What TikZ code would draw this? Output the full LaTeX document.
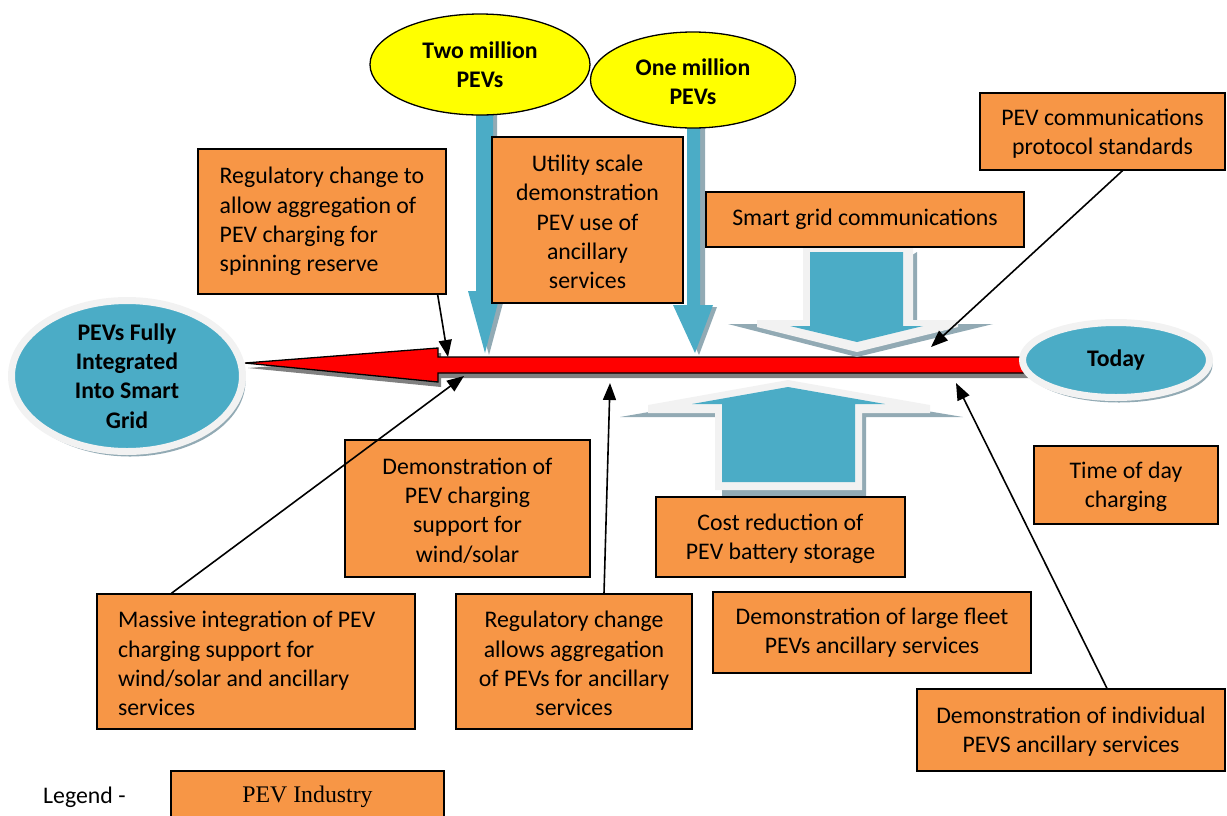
\documentclass[tikz,border=0pt]{standalone}
\usepackage{fontspec}
\setmainfont{Carlito}
\newfontfamily\legendfont{Liberation Serif}
\usetikzlibrary{arrows.meta,calc,shapes.geometric,shadows}
\definecolor{pevorange}{RGB}{247,150,70}
\definecolor{pevblue}{RGB}{75,172,198}
\definecolor{pevshadow}{RGB}{146,170,180}
\definecolor{pevwhite}{RGB}{242,242,242}
\definecolor{pevyellow}{RGB}{255,255,0}
\definecolor{redshadow}{RGB}{128,128,128}
\begin{document}
\begin{tikzpicture}[x=1pt,y=-1pt,
  txt/.style={font=\fontsize{23.8}{29.3}\selectfont},
  pbox/.style={txt, draw=black, line width=1.3pt, fill=pevorange, inner sep=0pt, align=center},
  leftbox/.style={pbox, align=flush left},
  blueell/.style={ellipse, txt, font=\fontsize{23.8}{29.3}\selectfont\bfseries, fill=pevblue, draw=pevwhite, line width=7pt, inner sep=0pt, align=center,
     drop shadow={shadow xshift=3pt, shadow yshift=-5pt, fill=pevshadow, opacity=1}},
  yellell/.style={ellipse, font=\fontsize{23.8}{29.3}\selectfont\bfseries, fill=pevyellow, draw=black, line width=1.3pt, inner sep=0pt, align=center},
  conn/.style={line width=1.6pt, -{Triangle[length=17pt,width=13pt]}},
  shad/.style={fill=pevshadow},
]
\useasboundingbox (0,0) rectangle (1227,815);

% thin blue arrows from the yellow milestones
\fill[shad] (480,115) -- (497,115) -- (497,292) -- (506,292) -- (489,355) -- (472,292) -- (480,292) -- cycle;
\fill[pevblue] (476,115) -- (493,115) -- (493,291) -- (501,291) -- (485,353) -- (468,291) -- (476,291) -- cycle;
\fill[shad] (691,120) -- (705,120) -- (705,307) -- (717,307) -- (699,355) -- (677,307) -- (691,307) -- cycle;
\fill[pevblue] (687,120) -- (700,120) -- (700,305) -- (713,305) -- (695,353) -- (673,305) -- (687,305) -- cycle;

% red time arrow
\fill[redshadow] (248,368) -- (441,353) -- (441,362) -- (1030,362) -- (1030,378) -- (441,378) -- (441,387) -- cycle;
\filldraw[fill=red, draw=black, line width=1.3pt] (245,363) -- (438,348) -- (438,357) -- (1030,357) -- (1030,373) -- (438,373) -- (438,382) -- cycle;

% big down arrow (smart grid communications)
\fill[shad] (917,252) -- (917,324) -- (993,324) -- (857,357) -- (728,324) -- (803,324) -- cycle;
\fill[pevwhite] (803,248) -- (913,248) -- (913,320) -- (958,320) -- (958,327) -- (857,352) -- (757,327) -- (757,320) -- (803,320) -- cycle;
\fill[pevblue] (810,252) -- (903,252) -- (903,326) -- (923,326) -- (857,342) -- (790,326) -- (810,326) -- cycle;

% big up arrow (cost reduction)
\fill[shad] (620,417) -- (788,388) -- (963,417) -- (866,417) -- (866,496) -- (722,496) -- (722,417) -- cycle;
\fill[pevwhite] (715,490) -- (715,413) -- (648,413) -- (648,405) -- (788,380) -- (930,405) -- (930,413) -- (862,413) -- (862,490) -- cycle;
\fill[pevblue] (722,482) -- (722,404) -- (692,404) -- (788,387) -- (885,404) -- (855,404) -- (855,482) -- cycle;

% orange boxes
\node[leftbox, minimum width=248pt, minimum height=145pt] (r1) at (322,221.5) {Regulatory change to\\allow aggregation of\\PEV charging for\\spinning reserve};
\node[pbox, minimum width=191pt, minimum height=166pt] (u1) at (587.5,220) {\strut Utility scale\\demonstration\\PEV use of\\ancillary\\services};
\node[pbox, minimum width=245pt, minimum height=77pt] (c1) at (1102.5,131.5) {\strut PEV communications\\protocol standards};
\node[pbox, minimum width=318pt, minimum height=55pt] (s1) at (865,219.5) {Smart grid communications};
\node[pbox, minimum width=245pt, minimum height=137pt] (d1) at (467.5,508.5) {\strut Demonstration of\\PEV charging\\support for\\wind/solar};
\node[pbox, minimum width=184pt, minimum height=78pt] (t1) at (1126,485) {\strut Time of day\\charging};
\node[pbox, minimum width=249pt, minimum height=80pt] (k1) at (780.5,537) {\strut Cost reduction of\\PEV battery storage};
\node[leftbox, text width=276pt, minimum width=318pt, minimum height=135pt] (m1) at (256,661.5) {\strut Massive integration of PEV\\charging support for\\wind/solar and ancillary\\services};
\node[pbox, minimum width=236pt, minimum height=135pt] (g1) at (574,661.5) {\strut Regulatory change\\allows aggregation\\of PEVs for ancillary\\services};
\node[pbox, minimum width=318pt, minimum height=81pt] (f1) at (872,632.5) {Demonstration of large fleet\\PEVs ancillary services};
\node[pbox, minimum width=308pt, minimum height=82pt] (i1) at (1071,730) {\strut Demonstration of individual\\PEVS ancillary services};

% ellipses
\node[blueell, minimum width=231pt, minimum height=151pt] (goal) at (127,376) {PEVs Fully\\Integrated\\Into Smart\\Grid};
\node[blueell, minimum width=187pt, minimum height=75pt] (today) at (1116,360) {Today};
\node[yellell, minimum width=220pt, minimum height=101pt] (two) at (480,64.5) {Two million\\PEVs};
\node[yellell, minimum width=205pt, minimum height=96pt] (one) at (693,80) {\strut One million\\PEVs};

% connectors
\coordinate (e1) at (448,357);
\coordinate (e2) at (464,376);
\coordinate (e3) at (610,383);
\coordinate (e4) at (956,383);
\coordinate (e5) at (931,347);
\draw[conn] ([xshift=-9pt]r1.south east) -- (e1);
\draw[conn] ([xshift=75pt]m1.north west) -- (e2);
\draw[conn] ([xshift=30pt]g1.north) -- (e3);
\draw[conn] ([xshift=36pt]i1.north) -- (e4);
\draw[conn] ([xshift=20pt]c1.south) -- (e5);

% legend
\node[txt, anchor=west, inner sep=0pt] (leg) at (43,797) {Legend -};
\node[draw=black, line width=1.3pt, fill=pevorange, inner sep=0pt, minimum width=273pt, minimum height=52pt,
      font=\legendfont\fontsize{23.8}{28}\selectfont] (legbox) at (307.5,797) {PEV Industry};
\end{tikzpicture}
\end{document}
